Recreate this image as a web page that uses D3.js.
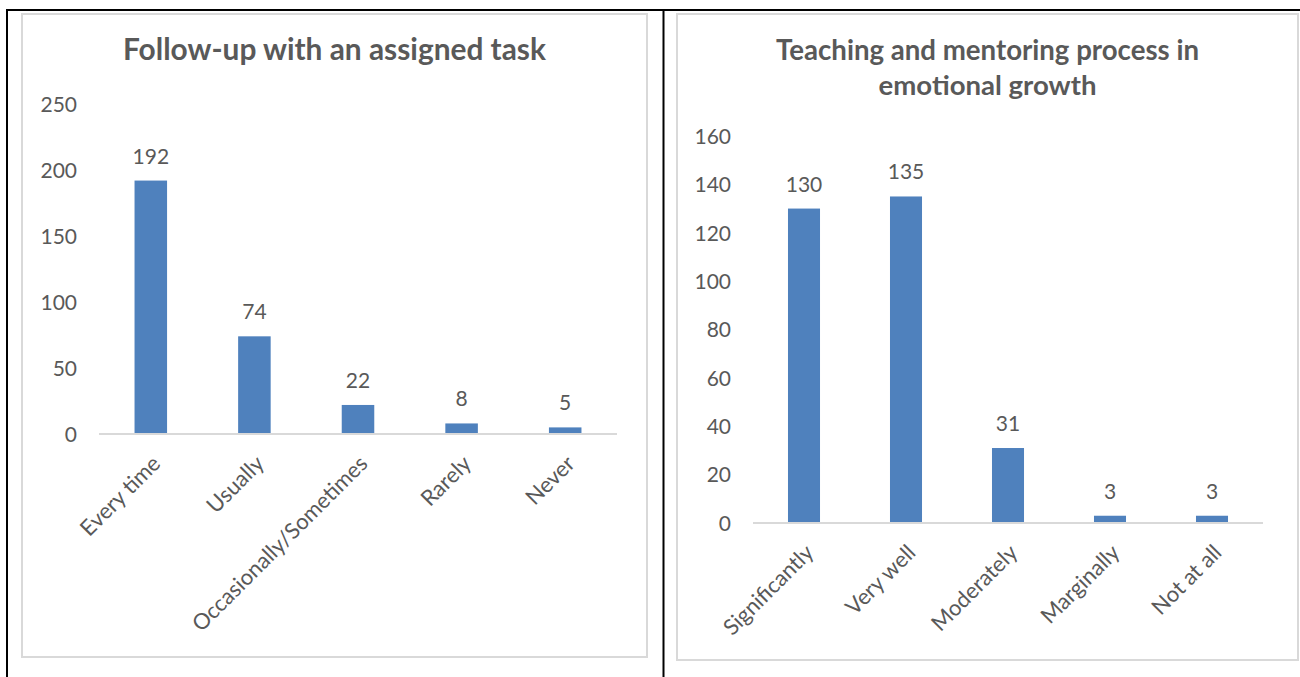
<!DOCTYPE html>
<html>
<head>
<meta charset="utf-8">
<script src="https://cdn.jsdelivr.net/npm/d3@7"></script>
<style>
  html, body { margin: 0; padding: 0; background: #fff; }
  svg { display: block; }
  text { font-family: Lato, "Open Sans", sans-serif; fill: #595959; }
</style>
</head>
<body>
<svg id="chart" width="1300" height="677"></svg>
<script>
// ---- data ----
const leftTitle = ["Follow-up with an assigned task"];
const leftCategories = ["Every time", "Usually", "Occasionally/Sometimes", "Rarely", "Never"];
const leftValues = [192, 74, 22, 8, 5];
const leftTicks = [0, 50, 100, 150, 200, 250];

const rightTitle = ["Teaching and mentoring process in", "emotional growth"];
const rightCategories = ["Significantly", "Very well", "Moderately", "Marginally", "Not at all"];
const rightValues = [130, 135, 31, 3, 3];
const rightTicks = [0, 20, 40, 60, 80, 100, 120, 140, 160];

const svg = d3.select("#chart");
const barColor = "#4f81bd";

// table borders
svg.append("line").attr("x1", 6).attr("x2", 1300).attr("y1", 10).attr("y2", 10)
  .attr("stroke", "#000").attr("stroke-width", 2);
svg.append("line").attr("x1", 7).attr("x2", 7).attr("y1", 9).attr("y2", 677)
  .attr("stroke", "#000").attr("stroke-width", 2);
svg.append("line").attr("x1", 663.5).attr("x2", 663.5).attr("y1", 9).attr("y2", 677)
  .attr("stroke", "#000").attr("stroke-width", 2);

function drawChart(cfg) {
  const g = svg.append("g");
  // chart area border
  g.append("rect").attr("x", cfg.box[0]).attr("y", cfg.box[1])
    .attr("width", cfg.box[2] - cfg.box[0]).attr("height", cfg.box[3] - cfg.box[1])
    .attr("fill", "#fff").attr("stroke", "#d9d9d9").attr("stroke-width", 2);

  // title
  const cx = (cfg.box[0] + cfg.box[2]) / 2;
  cfg.title.forEach((t, i) => {
    const tx = g.append("text").attr("x", cx).attr("y", cfg.titleY + i * 35)
      .attr("text-anchor", "middle").attr("font-weight", "bold")
      .attr("font-size", 23).text(t);
    const w = tx.node().getComputedTextLength();
    if (cfg.titleW[i]) tx.attr("font-size", 23 * cfg.titleW[i] / w);
  });

  const x = d3.scaleBand().domain(cfg.categories).range(cfg.xRange).paddingInner(0).paddingOuter(0);
  const y = d3.scaleLinear().domain([0, d3.max(cfg.ticks)]).range(cfg.yRange);
  const bw = x.bandwidth() * 0.314;

  // y axis labels
  const yAxis = d3.axisLeft(y).tickValues(cfg.ticks).tickSize(0).tickPadding(0);
  const ya = g.append("g").attr("transform", `translate(${cfg.yLabelX},0)`).call(yAxis);
  ya.select(".domain").remove();
  ya.selectAll("text").attr("font-size", 21).attr("fill", "#595959")
    .style("font-family", "Lato, 'Open Sans', sans-serif").attr("dy", "0.35em");

  // baseline
  g.append("line").attr("x1", cfg.xRange[0]).attr("x2", cfg.xRange[1])
    .attr("y1", y(0)).attr("y2", y(0)).attr("stroke", "#d9d9d9").attr("stroke-width", 2);

  // bars
  g.selectAll("rect.bar").data(cfg.values).join("rect").attr("class", "bar")
    .attr("x", (d, i) => x(cfg.categories[i]) + x.bandwidth() / 2 - bw / 2)
    .attr("y", d => y(d)).attr("width", bw).attr("height", d => y(0) - y(d) - 1)
    .attr("fill", barColor);

  // value labels
  g.selectAll("text.val").data(cfg.values).join("text").attr("class", "val")
    .attr("x", (d, i) => x(cfg.categories[i]) + x.bandwidth() / 2)
    .attr("y", d => y(d) - 17).attr("text-anchor", "middle").attr("font-size", 21)
    .text(d => d);

  // x labels rotated
  const xAxis = d3.axisBottom(x).tickSize(0).tickPadding(0);
  const xa = g.append("g").attr("transform", `translate(0,${y(0)})`).call(xAxis);
  xa.select(".domain").remove();
  xa.selectAll("text").attr("font-size", 22).attr("fill", "#595959")
    .style("font-family", "Lato, 'Open Sans', sans-serif")
    .attr("text-anchor", "end").attr("dy", null).attr("y", 0)
    .attr("transform", "translate(11,31) rotate(-45)");
}

drawChart({
  box: [22, 14, 647, 657],
  title: leftTitle, titleY: 60, titleW: [423],
  categories: leftCategories, values: leftValues, ticks: leftTicks,
  xRange: [99, 617], yRange: [434, 104], yLabelX: 77
});

drawChart({
  box: [677, 14, 1298, 660],
  title: rightTitle, titleY: 60, titleW: [423, 218],
  categories: rightCategories, values: rightValues, ticks: rightTicks,
  xRange: [753, 1263], yRange: [523, 136], yLabelX: 731
});
</script>
</body>
</html>
